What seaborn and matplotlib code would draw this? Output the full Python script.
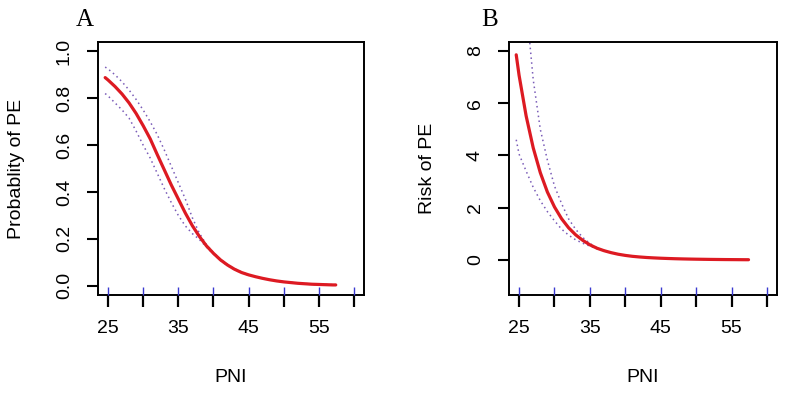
import matplotlib
matplotlib.use("Agg")
import matplotlib.pyplot as plt
import seaborn as sns
import pandas as pd

# ---- data ----
pni = [24.6, 25, 26, 27, 28, 29, 30, 31, 32, 33, 34, 35, 36, 37, 38, 39, 40,
       41, 42, 43, 44, 45, 46, 47, 48, 49, 50, 51, 52, 53, 54, 55, 56, 57, 57.4]

prob_fit = [0.888, 0.878, 0.85, 0.818, 0.78, 0.735, 0.683, 0.627, 0.56, 0.495, 0.43,
            0.37, 0.31, 0.256, 0.21, 0.17, 0.138, 0.11, 0.088, 0.07, 0.056, 0.046,
            0.038, 0.031, 0.025, 0.02, 0.016, 0.013, 0.010, 0.008, 0.006, 0.005,
            0.004, 0.003, 0.003]
prob_upper = [0.933, 0.925, 0.90, 0.87, 0.835, 0.795, 0.75, 0.70, 0.645, 0.58, 0.51,
              0.44, 0.37, 0.29, 0.224, 0.175, 0.141, 0.112, 0.09, 0.072, 0.058, 0.047,
              0.039, 0.032, 0.026, 0.021, 0.017, 0.014, 0.011, 0.009, 0.007, 0.006,
              0.005, 0.004, 0.004]
prob_lower = [0.82, 0.81, 0.78, 0.75, 0.715, 0.66, 0.60, 0.545, 0.48, 0.415, 0.355,
              0.30, 0.255, 0.222, 0.197, 0.165, 0.135, 0.108, 0.086, 0.068, 0.054, 0.045,
              0.037, 0.030, 0.024, 0.019, 0.015, 0.012, 0.009, 0.007, 0.005, 0.004,
              0.003, 0.002, 0.002]

risk_fit = [7.85, 7.07, 5.51, 4.29, 3.34, 2.60, 2.03, 1.58, 1.23, 0.96, 0.75,
            0.58, 0.45, 0.355, 0.28, 0.22, 0.175, 0.14, 0.115, 0.095, 0.08, 0.067,
            0.057, 0.048, 0.041, 0.035, 0.030, 0.026, 0.022, 0.019, 0.016, 0.014,
            0.012, 0.010, 0.010]
risk_upper = [16.0, 14.0, 9.8, 6.9, 5.0, 3.82, 2.83, 2.16, 1.57, 1.17, 0.86,
              0.63, 0.47, 0.365, 0.287, 0.225, 0.179, 0.143, 0.117, 0.097, 0.082, 0.068,
              0.058, 0.049, 0.042, 0.036, 0.031, 0.027, 0.023, 0.020, 0.017, 0.015,
              0.013, 0.011, 0.011]
risk_lower = [4.6, 4.05, 3.4, 2.78, 2.27, 1.85, 1.5, 1.18, 0.95, 0.77, 0.64,
              0.53, 0.43, 0.345, 0.273, 0.215, 0.171, 0.137, 0.113, 0.093, 0.078, 0.066,
              0.056, 0.047, 0.040, 0.034, 0.029, 0.025, 0.021, 0.018, 0.015, 0.013,
              0.011, 0.009, 0.009]

x_ticks = [25, 30, 35, 40, 45, 50, 55, 60]
x_tick_labels = ["25", "", "35", "", "45", "", "55", ""]
yA_ticks = [0.0, 0.2, 0.4, 0.6, 0.8, 1.0]
yA_labels = ["0.0", "0.2", "0.4", "0.6", "0.8", "1.0"]
yB_ticks = [0, 2, 4, 6, 8]
yB_labels = ["0", "2", "4", "6", "8"]

panel_letters = ["A", "B"]
y_titles = ["Probablity of PE", "Risk of PE"]
x_title = "PNI"

# ---- styling ----
sns.set_style("ticks")
plt.rcParams["font.family"] = ["Liberation Sans", "DejaVu Sans"]
plt.rcParams["text.color"] = "black"
plt.rcParams["axes.labelcolor"] = "black"
FS = 14
RED = "#dd1a22"
DOT = "#7a5cb8"
RUG = "#3a3ad0"

fig = plt.figure(figsize=(7.85, 3.93), dpi=100)
axA = fig.add_axes([98 / 785, 98 / 393, 266 / 785, 253 / 393])
axB = fig.add_axes([509 / 785, 98 / 393, 268 / 785, 253 / 393])

dfA = pd.DataFrame({"PNI": pni, "fit": prob_fit, "upper": prob_upper, "lower": prob_lower})
dfB = pd.DataFrame({"PNI": pni, "fit": risk_fit, "upper": risk_upper, "lower": risk_lower})

panels = [
    (axA, dfA, (-0.04, 1.04), yA_ticks, yA_labels),
    (axB, dfB, (-1.34, 8.34), yB_ticks, yB_labels),
]

for i, (ax, df, ylim, yt, yl) in enumerate(panels):
    sns.lineplot(data=df, x="PNI", y="upper", ax=ax, color=DOT, lw=1.1,
                 linestyle=(0, (1, 2.2)))
    sns.lineplot(data=df, x="PNI", y="lower", ax=ax, color=DOT, lw=1.1,
                 linestyle=(0, (1, 2.2)))
    sns.lineplot(data=df, x="PNI", y="fit", ax=ax, color=RED, lw=2.3)
    ax.set_xlim(23.58, 61.42)
    ax.set_ylim(*ylim)
    ax.set_xticks(x_ticks)
    ax.set_xticklabels(x_tick_labels, fontsize=FS, color="black")
    ax.set_yticks(yt)
    ax.set_yticklabels(yl, fontsize=FS, rotation=90, va="center", color="black")
    ax.tick_params(axis="x", length=0, pad=18)
    ax.tick_params(axis="y", direction="out", length=8, width=1.5, color="black", pad=10)
    for s in ax.spines.values():
        s.set_visible(True)
        s.set_linewidth(1.4)
        s.set_color("black")
    # black outward tick marks and blue inner rug marks at the tick positions
    ax.vlines(x_ticks, -0.046, 0, transform=ax.get_xaxis_transform(),
              color="black", lw=1.6, clip_on=False, zorder=5)
    ax.vlines(x_ticks, 0, 0.03, transform=ax.get_xaxis_transform(),
              color=RUG, lw=1.0, clip_on=False, zorder=5)
    ax.set_xlabel(x_title, fontsize=FS, labelpad=23)
    ax.set_ylabel(y_titles[i], fontsize=FS, labelpad=22)

fig.text(85 / 785, 1 - 20 / 393, panel_letters[0], fontsize=18,
         family=["Liberation Serif", "DejaVu Serif"], ha="center", va="center")
fig.text(490 / 785, 1 - 20 / 393, panel_letters[1], fontsize=18,
         family=["Liberation Serif", "DejaVu Serif"], ha="center", va="center")

fig.savefig("out.png", dpi=100)
